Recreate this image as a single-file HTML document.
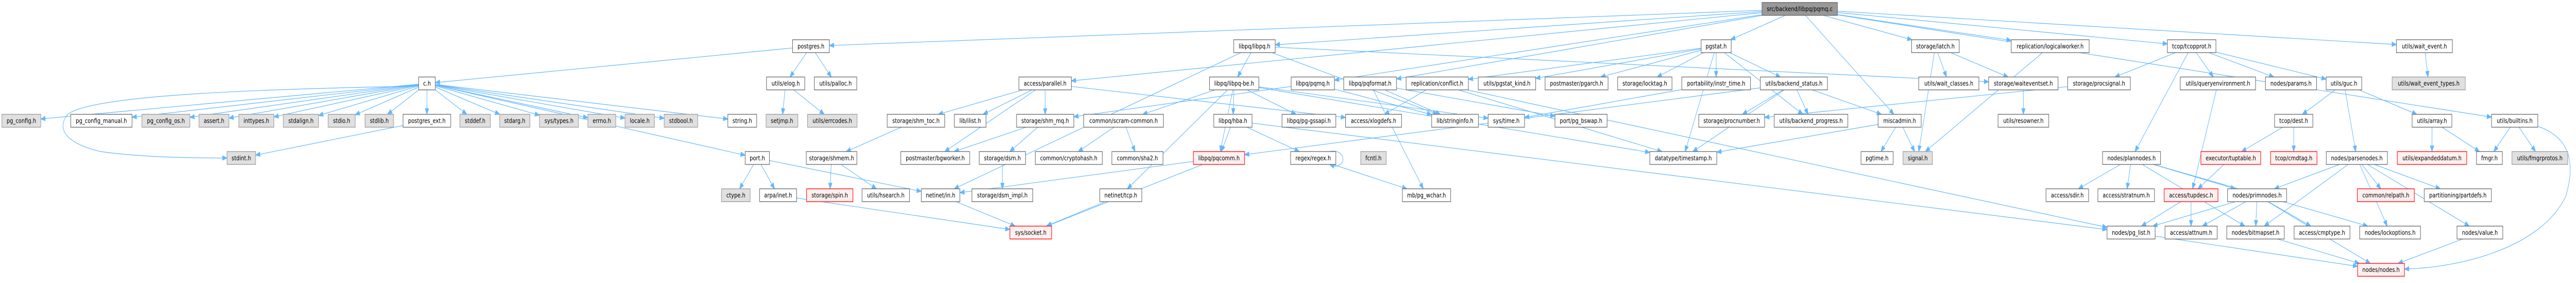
<!DOCTYPE html>
<html><head><meta charset="utf-8">
<style>
html,body{margin:0;padding:0;background:#fff;width:100%;height:100%;overflow:hidden}
svg{display:block;width:100vw;height:100vh}
rect{stroke-width:1.3}
.w{fill:#fff;stroke:#666}
.g{fill:#e0e0e0;stroke:#999}
.r{fill:#fff0f0;stroke:#ff0000}
.d{fill:#999;stroke:#666}
text{fill:#000}
</style></head><body>
<svg id="svg" xmlns="http://www.w3.org/2000/svg" viewBox="0 0 6405 549" preserveAspectRatio="none">
<g id="edges" fill="none" stroke="#63b8ff" stroke-width="1.2"></g>
<g font-family="DejaVu Sans, sans-serif" font-size="12.7" text-anchor="middle">
<rect id="pqmq_c" class="d" x="4381" y="4.8" width="187.6" height="25"/><text x="4474.8" y="21.6">src/backend/libpq/pqmq.c</text>

<rect id="postgres" class="w" x="1970.7" y="77.1" width="91.4" height="25"/><text x="2016.4" y="93.9">postgres.h</text>
<rect id="libpq" class="w" x="3067.6" y="77.1" width="103.1" height="25"/><text x="3119.2" y="93.9">libpq/libpq.h</text>
<rect id="pgstat" class="w" x="4229.7" y="77.1" width="74.8" height="25"/><text x="4267.1" y="93.9">pgstat.h</text>
<rect id="latch" class="w" x="4753.1" y="77.1" width="118.3" height="25"/><text x="4812.3" y="93.9">storage/latch.h</text>
<rect id="logicalworker" class="w" x="5000.7" y="77.1" width="193.8" height="25"/><text x="5097.6" y="93.9">replication/logicalworker.h</text>
<rect id="tcopprot" class="w" x="5389" y="77.1" width="120.7" height="25"/><text x="5449.4" y="93.9">tcop/tcopprot.h</text>
<rect id="wait_event" class="w" x="5958.5" y="77.1" width="139.2" height="25"/><text x="6028.1" y="93.9">utils/wait_event.h</text>

<rect id="c" class="w" x="1041" y="149.4" width="41.4" height="25"/><text x="1061.7" y="166.2">c.h</text>
<rect id="elog" class="w" x="1905.9" y="149.4" width="95.1" height="25"/><text x="1953.5" y="166.2">utils/elog.h</text>
<rect id="palloc" class="w" x="2024.8" y="149.4" width="105.5" height="25"/><text x="2077.6" y="166.2">utils/palloc.h</text>
<rect id="parallel" class="w" x="2533.4" y="149.4" width="130.4" height="25"/><text x="2598.6" y="166.2">access/parallel.h</text>
<rect id="libpqbe" class="w" x="3007.2" y="149.4" width="122.8" height="25"/><text x="3068.6" y="166.2">libpq/libpq-be.h</text>
<rect id="pqmq_h" class="w" x="3210.3" y="149.4" width="107.6" height="25"/><text x="3264.1" y="166.2">libpq/pqmq.h</text>
<rect id="pqformat" class="w" x="3341" y="149.4" width="131.4" height="25"/><text x="3406.7" y="166.2">libpq/pqformat.h</text>
<rect id="conflict" class="w" x="3496.2" y="149.4" width="154.8" height="25"/><text x="3573.6" y="166.2">replication/conflict.h</text>
<rect id="pgstat_kind" class="w" x="3675.5" y="149.4" width="142.8" height="25"/><text x="3746.9" y="166.2">utils/pgstat_kind.h</text>
<rect id="pgarch" class="w" x="3841.7" y="149.4" width="156.6" height="25"/><text x="3920" y="166.2">postmaster/pgarch.h</text>
<rect id="locktag" class="w" x="4022.1" y="149.4" width="135.1" height="25"/><text x="4089.7" y="166.2">storage/locktag.h</text>
<rect id="instr_time" class="w" x="4181.7" y="149.4" width="170.7" height="25"/><text x="4267.1" y="166.2">portability/instr_time.h</text>
<rect id="backend_status" class="w" x="4376.9" y="149.4" width="166.9" height="25"/><text x="4460.4" y="166.2">utils/backend_status.h</text>
<rect id="wait_classes" class="w" x="4770.7" y="149.4" width="149.6" height="25"/><text x="4845.5" y="166.2">utils/wait_classes.h</text>
<rect id="waiteventset" class="w" x="4944.5" y="149.4" width="172.7" height="25"/><text x="5030.9" y="166.2">storage/waiteventset.h</text>
<rect id="procsignal" class="w" x="5141" y="149.4" width="155.9" height="25"/><text x="5219" y="166.2">storage/procsignal.h</text>
<rect id="queryenv" class="w" x="5421" y="149.4" width="187.3" height="25"/><text x="5514.7" y="166.2">utils/queryenvironment.h</text>
<rect id="params" class="w" x="5632.8" y="149.4" width="127.2" height="25"/><text x="5696.4" y="166.2">nodes/params.h</text>
<rect id="guc" class="w" x="5783.8" y="149.4" width="88.4" height="25"/><text x="5828" y="166.2">utils/guc.h</text>
<rect id="wait_event_types" class="g" x="5947.9" y="149.4" width="181.8" height="25"/><text x="6038.8" y="166.2">utils/wait_event_types.h</text>

<rect id="pg_config" class="g" x="4.8" y="221.7" width="96.6" height="25"/><text x="53.1" y="238.5">pg_config.h</text>
<rect id="pg_config_manual" class="w" x="175.9" y="221.7" width="152.4" height="25"/><text x="252.1" y="238.5">pg_config_manual.h</text>
<rect id="pg_config_os" class="g" x="352.8" y="221.7" width="119.3" height="25"/><text x="412.5" y="238.5">pg_config_os.h</text>
<rect id="assert" class="g" x="494.8" y="221.7" width="74.5" height="25"/><text x="532.1" y="238.5">assert.h</text>
<rect id="inttypes" class="g" x="593.8" y="221.7" width="87.2" height="25"/><text x="637.4" y="238.5">inttypes.h</text>
<rect id="stdalign" class="g" x="704.5" y="221.7" width="87.6" height="25"/><text x="748.3" y="238.5">stdalign.h</text>
<rect id="stdio" class="g" x="815.9" y="221.7" width="67.2" height="25"/><text x="849.5" y="238.5">stdio.h</text>
<rect id="stdlib" class="g" x="907.6" y="221.7" width="71" height="25"/><text x="943.1" y="238.5">stdlib.h</text>
<rect id="postgres_ext" class="w" x="1002.1" y="221.7" width="118.6" height="25"/><text x="1061.4" y="238.5">postgres_ext.h</text>
<rect id="stddef" class="g" x="1143.4" y="221.7" width="75.9" height="25"/><text x="1181.4" y="238.5">stddef.h</text>
<rect id="stdarg" class="g" x="1242.4" y="221.7" width="75.2" height="25"/><text x="1280" y="238.5">stdarg.h</text>
<rect id="sys_types" class="g" x="1341.4" y="221.7" width="96.9" height="25"/><text x="1389.9" y="238.5">sys/types.h</text>
<rect id="errno" class="g" x="1461.7" y="221.7" width="69.3" height="25"/><text x="1496.4" y="238.5">errno.h</text>
<rect id="locale" class="g" x="1554.1" y="221.7" width="73.1" height="25"/><text x="1590.7" y="238.5">locale.h</text>
<rect id="stdbool" class="g" x="1651.4" y="221.7" width="83.4" height="25"/><text x="1693.1" y="238.5">stdbool.h</text>
<rect id="string" class="w" x="1809.7" y="221.7" width="71.7" height="25"/><text x="1845.6" y="238.5">string.h</text>
<rect id="setjmp" class="g" x="1904.8" y="221.7" width="79" height="25"/><text x="1944.3" y="238.5">setjmp.h</text>
<rect id="errcodes" class="g" x="2007.9" y="221.7" width="123.1" height="25"/><text x="2069.5" y="238.5">utils/errcodes.h</text>
<rect id="shm_toc" class="w" x="2205.9" y="221.7" width="143.1" height="25"/><text x="2277.5" y="238.5">storage/shm_toc.h</text>
<rect id="ilist" class="w" x="2372.8" y="221.7" width="78.9" height="25"/><text x="2412.3" y="238.5">lib/ilist.h</text>
<rect id="shm_mq" class="w" x="2527.6" y="221.7" width="142.4" height="25"/><text x="2598.8" y="238.5">storage/shm_mq.h</text>
<rect id="scram" class="w" x="2694.5" y="221.7" width="198.3" height="25"/><text x="2793.7" y="238.5">common/scram-common.h</text>
<rect id="hba" class="w" x="3017.9" y="221.7" width="95.2" height="25"/><text x="3065.5" y="238.5">libpq/hba.h</text>
<rect id="gssapi" class="w" x="3187.6" y="221.7" width="133.8" height="25"/><text x="3254.5" y="238.5">libpq/pg-gssapi.h</text>
<rect id="xlogdefs" class="w" x="3345.5" y="221.7" width="139.3" height="25"/><text x="3415.2" y="238.5">access/xlogdefs.h</text>
<rect id="stringinfo" class="w" x="3559.7" y="221.7" width="116.2" height="25"/><text x="3617.8" y="238.5">lib/stringinfo.h</text>
<rect id="sys_time" class="w" x="3700" y="221.7" width="90.7" height="25"/><text x="3745.4" y="238.5">sys/time.h</text>
<rect id="pg_bswap" class="w" x="3866.2" y="221.7" width="129.7" height="25"/><text x="3931.1" y="238.5">port/pg_bswap.h</text>
<rect id="procnumber" class="w" x="4223.8" y="221.7" width="163.8" height="25"/><text x="4305.7" y="238.5">storage/procnumber.h</text>
<rect id="backend_progress" class="w" x="4411.4" y="221.7" width="183.1" height="25"/><text x="4503" y="238.5">utils/backend_progress.h</text>
<rect id="miscadmin" class="w" x="4669.7" y="221.7" width="107.2" height="25"/><text x="4723.3" y="238.5">miscadmin.h</text>
<rect id="resowner" class="w" x="4967.9" y="221.7" width="126.2" height="25"/><text x="5031" y="238.5">utils/resowner.h</text>
<rect id="dest" class="w" x="5655.5" y="221.7" width="95.2" height="25"/><text x="5703.1" y="238.5">tcop/dest.h</text>
<rect id="array" class="w" x="5997.5" y="221.7" width="98.8" height="25"/><text x="6046.9" y="238.5">utils/array.h</text>
<rect id="builtins" class="w" x="6195" y="221.7" width="115" height="25"/><text x="6252.5" y="238.5">utils/builtins.h</text>

<rect id="stdint" class="g" x="564.5" y="294" width="71" height="25"/><text x="600" y="310.8">stdint.h</text>
<rect id="port" class="w" x="1852.8" y="294" width="60.3" height="25"/><text x="1883" y="310.8">port.h</text>
<rect id="shmem" class="w" x="2004.8" y="294" width="125.7" height="25"/><text x="2067.7" y="310.8">storage/shmem.h</text>
<rect id="bgworker" class="w" x="2239.7" y="294" width="171.3" height="25"/><text x="2325.4" y="310.8">postmaster/bgworker.h</text>
<rect id="dsm" class="w" x="2434.8" y="294" width="115.2" height="25"/><text x="2492.4" y="310.8">storage/dsm.h</text>
<rect id="cryptohash" class="w" x="2574.1" y="294" width="166.6" height="25"/><text x="2657.4" y="310.8">common/cryptohash.h</text>
<rect id="sha2" class="w" x="2764.5" y="294" width="127.2" height="25"/><text x="2828.1" y="310.8">common/sha2.h</text>
<rect id="pqcomm" class="r" x="2967.2" y="294" width="127.3" height="25"/><text x="3030.9" y="310.8">libpq/pqcomm.h</text>
<rect id="regex" class="w" x="3209" y="294" width="112.4" height="25"/><text x="3265.2" y="310.8">regex/regex.h</text>
<rect id="fcntl" class="g" x="3383.4" y="294" width="63.2" height="25"/><text x="3415" y="310.8">fcntl.h</text>
<rect id="timestamp" class="w" x="4102.1" y="294" width="166.5" height="25"/><text x="4185.4" y="310.8">datatype/timestamp.h</text>
<rect id="pgtime" class="w" x="4627.2" y="294" width="80" height="25"/><text x="4667.2" y="310.8">pgtime.h</text>
<rect id="signal" class="g" x="4731.7" y="294" width="73.1" height="25"/><text x="4768.3" y="310.8">signal.h</text>
<rect id="plannodes" class="w" x="5227.9" y="294" width="144.1" height="25"/><text x="5300" y="310.8">nodes/plannodes.h</text>
<rect id="tuptable" class="r" x="5472.4" y="294" width="148.6" height="25"/><text x="5546.7" y="310.8">executor/tuptable.h</text>
<rect id="cmdtag" class="r" x="5645.5" y="294" width="115.5" height="25"/><text x="5703.3" y="310.8">tcop/cmdtag.h</text>
<rect id="parsenodes" class="w" x="5784.1" y="294" width="152" height="25"/><text x="5860.1" y="310.8">nodes/parsenodes.h</text>
<rect id="expandeddatum" class="r" x="5960.7" y="294" width="172.6" height="25"/><text x="6047" y="310.8">utils/expandeddatum.h</text>
<rect id="fmgr" class="w" x="6157.6" y="294" width="64.3" height="25"/><text x="6189.8" y="310.8">fmgr.h</text>
<rect id="fmgrprotos" class="g" x="6245.7" y="294" width="138.8" height="25"/><text x="6315.1" y="310.8">utils/fmgrprotos.h</text>

<rect id="ctype" class="g" x="1794.1" y="366.3" width="71.1" height="25"/><text x="1829.7" y="383.1">ctype.h</text>
<rect id="arpa_inet" class="w" x="1888.6" y="366.3" width="92.1" height="25"/><text x="1934.7" y="383.1">arpa/inet.h</text>
<rect id="spin" class="r" x="2005.5" y="366.3" width="115.2" height="25"/><text x="2063.1" y="383.1">storage/spin.h</text>
<rect id="hsearch" class="w" x="2143.4" y="366.3" width="118" height="25"/><text x="2202.4" y="383.1">utils/hsearch.h</text>
<rect id="netinet_in" class="w" x="2290.7" y="366.3" width="95.9" height="25"/><text x="2338.7" y="383.1">netinet/in.h</text>
<rect id="dsm_impl" class="w" x="2416.6" y="366.3" width="151.3" height="25"/><text x="2492.3" y="383.1">storage/dsm_impl.h</text>
<rect id="netinet_tcp" class="w" x="2734.5" y="366.3" width="104.5" height="25"/><text x="2786.8" y="383.1">netinet/tcp.h</text>
<rect id="pg_wchar" class="w" x="3486.9" y="366.3" width="120" height="25"/><text x="3546.9" y="383.1">mb/pg_wchar.h</text>
<rect id="sdir" class="w" x="5087.2" y="366.3" width="105.9" height="25"/><text x="5140.2" y="383.1">access/sdir.h</text>
<rect id="stratnum" class="w" x="5216.2" y="366.3" width="140.7" height="25"/><text x="5286.6" y="383.1">access/stratnum.h</text>
<rect id="tupdesc" class="r" x="5381" y="366.3" width="133.8" height="25"/><text x="5447.9" y="383.1">access/tupdesc.h</text>
<rect id="primnodes" class="w" x="5538.6" y="366.3" width="146.9" height="25"/><text x="5612.1" y="383.1">nodes/primnodes.h</text>
<rect id="relpath" class="r" x="5861.2" y="366.3" width="141.8" height="25"/><text x="5932.1" y="383.1">common/relpath.h</text>
<rect id="partdefs" class="w" x="6027.6" y="366.3" width="167.1" height="25"/><text x="6111.2" y="383.1">partitioning/partdefs.h</text>

<rect id="sys_socket" class="r" x="2511" y="438.6" width="103.8" height="25"/><text x="2562.9" y="455.4">sys/socket.h</text>
<rect id="pg_list" class="w" x="5239" y="438.6" width="119.6" height="25"/><text x="5298.8" y="455.4">nodes/pg_list.h</text>
<rect id="attnum" class="w" x="5383.1" y="438.6" width="129.7" height="25"/><text x="5448" y="455.4">access/attnum.h</text>
<rect id="bitmapset" class="w" x="5536.6" y="438.6" width="143.1" height="25"/><text x="5608.2" y="455.4">nodes/bitmapset.h</text>
<rect id="cmptype" class="w" x="5704.1" y="438.6" width="138.8" height="25"/><text x="5773.5" y="455.4">access/cmptype.h</text>
<rect id="lockoptions" class="w" x="5867.1" y="438.6" width="151.3" height="25"/><text x="5942.8" y="455.4">nodes/lockoptions.h</text>
<rect id="value" class="w" x="6109.1" y="438.6" width="113.9" height="25"/><text x="6166.1" y="455.4">nodes/value.h</text>

<rect id="nodes" class="r" x="5862" y="510.9" width="116.4" height="25"/><text x="5920.2" y="527.7">nodes/nodes.h</text>
</g>
</svg>
<script>
(function(){
var NS="http://www.w3.org/2000/svg";
var eg=document.getElementById("edges");
var E=[
["pqmq_c","postgres parallel libpq pqformat pqmq_h miscadmin pgstat logicalworker latch tcopprot builtins wait_event"],
["postgres","c elog palloc"],
["c","pg_config pg_config_manual pg_config_os assert inttypes stdalign stdio stdlib postgres_ext stddef stdarg sys_types errno locale stdbool string port"],
["postgres_ext","stdint"],
["elog","setjmp errcodes"],
["port","ctype arpa_inet netinet_in"],
["arpa_inet","sys_socket"],
["netinet_in","sys_socket"],
["parallel","shm_toc ilist bgworker shm_mq xlogdefs"],
["shm_toc","shmem"],
["shmem","spin hsearch"],
["shm_mq","bgworker dsm"],
["dsm","dsm_impl"],
["libpq","netinet_in libpqbe stringinfo waiteventset"],
["libpqbe","scram hba pqcomm netinet_tcp gssapi sys_time timestamp"],
["scram","cryptohash sha2"],
["hba","pqcomm regex pg_list"],
["pqcomm","netinet_in sys_socket"],
["netinet_tcp","sys_socket"],
["regex","pg_wchar"],
["pqmq_h","stringinfo shm_mq"],
["pqformat","stringinfo pg_wchar pg_bswap"],
["conflict","xlogdefs timestamp pg_list"],
["pgstat","pgstat_kind pgarch locktag instr_time backend_status backend_progress timestamp conflict"],
["instr_time","sys_time"],
["backend_status","procnumber backend_progress miscadmin timestamp pqcomm"],
["miscadmin","pgtime signal timestamp"],
["latch","wait_classes waiteventset signal"],
["procsignal","procnumber"],
["logicalworker","signal"],
["waiteventset","resowner"],
["tcopprot","procsignal plannodes queryenv params guc"],
["queryenv","tupdesc"],
["guc","dest parsenodes array"],
["dest","tuptable cmdtag"],
["tuptable","tupdesc"],
["tupdesc","pg_list attnum"],
["primnodes","pg_list attnum bitmapset cmptype nodes"],
["plannodes","primnodes sdir stratnum lockoptions bitmapset"],
["parsenodes","primnodes bitmapset relpath partdefs value lockoptions"],
["array","expandeddatum fmgr"],
["builtins","fmgr fmgrprotos"],
["value","nodes"],
["bitmapset","nodes"],
["pg_list","nodes"],
["wait_event","wait_event_types"]
];
function box(id){var r=document.getElementById(id);var x=+r.getAttribute("x"),y=+r.getAttribute("y"),w=+r.getAttribute("width"),h=+r.getAttribute("height");return {cx:x+w/2,cy:y+h/2,hw:w/2,hh:h/2};}
function clip(b,dx,dy){var tx=dx?b.hw/Math.abs(dx):1e9,ty=dy?b.hh/Math.abs(dy):1e9;var t=Math.min(tx,ty);return [b.cx+dx*t,b.cy+dy*t];}
function arrow(tx,ty,ux,uy){var L=11,W=4.2;var bx=tx-ux*L,by=ty-uy*L;var p=document.createElementNS(NS,"polygon");p.setAttribute("points",tx+","+ty+" "+(bx-uy*W)+","+(by+ux*W)+" "+(bx+uy*W)+","+(by-ux*W));p.setAttribute("fill","#63b8ff");p.setAttribute("stroke","#63b8ff");eg.appendChild(p);return [bx,by];}
function path(d){var p=document.createElementNS(NS,"path");p.setAttribute("d",d);eg.appendChild(p);}
E.forEach(function(g){var a=box(g[0]);g[1].split(" ").forEach(function(t){var b=box(t);var dx=b.cx-a.cx,dy=b.cy-a.cy;var S=clip(a,dx,dy),T=clip(b,-dx,-dy);var lx=T[0]-S[0],ly=T[1]-S[1];var len=Math.sqrt(lx*lx+ly*ly)||1;var B=arrow(T[0],T[1],lx/len,ly/len);path("M"+S[0]+","+S[1]+"L"+B[0]+","+B[1]);});});
var B1=arrow(564.5,306.5,1,0);
path("M1041,167 C700,172 230,182 168,222 C145,245 150,275 250,294 C350,305 470,306.5 "+B1[0]+","+B1[1]);
var B2=arrow(3306,319,-0.95,-0.3);
path("M3304,294 C3345,287 3352,322 "+B2[0]+","+B2[1]);
var B3=arrow(5978.4,522,-1,0.05);
path("M6310,245 C6395,268 6402,320 6380,380 C6320,480 6120,518 "+B3[0]+","+B3[1]);
})();
</script>
</body></html>
